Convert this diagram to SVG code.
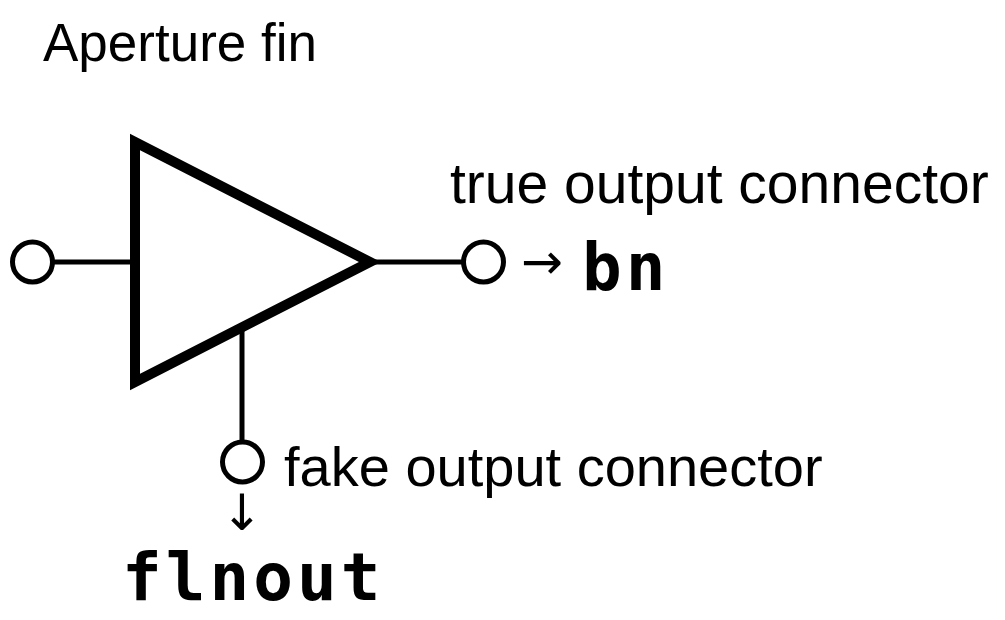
<svg xmlns="http://www.w3.org/2000/svg" width="1005" height="620" viewBox="0 0 1005 620">
<style>
.lbl{font-family:"Liberation Sans",Arial,sans-serif;fill:#000}
.px{font-family:"DejaVu Sans Mono","Liberation Mono",monospace;font-weight:bold;fill:#000;font-size:66px;letter-spacing:4px}
.arr{font-family:"DejaVu Sans",sans-serif;fill:#000;font-size:50px}
.pin{fill:#fff;stroke:#000;stroke-width:5}
.wire{stroke:#000;stroke-width:5;fill:none}
</style>
<rect width="1005" height="620" fill="#fff"/>
<text class="lbl" x="43" y="61" font-size="53">Aperture fin</text>
<g id="connectors">
<line class="wire" x1="52" y1="262" x2="135" y2="262"/>
<line class="wire" x1="370" y1="262" x2="463" y2="262"/>
<line class="wire" x1="242" y1="327" x2="242" y2="442"/>
</g>
<g id="amplifier">
<polygon points="135,142 370,262 135,382" fill="#fff" stroke="#000" stroke-width="10" stroke-linejoin="miter"/>
</g>
<g id="input-pin">
<circle class="pin" cx="32.5" cy="262" r="20"/>
</g>
<g id="true-output">
<circle class="pin" cx="483.5" cy="262" r="20"/>
<text class="lbl" x="450" y="203" font-size="57">true output connector</text>
<text class="arr" x="521" y="279">→</text>
<text class="px" x="582" y="290">bn</text>
</g>
<g id="fake-output">
<circle class="pin" cx="242.5" cy="462" r="20"/>
<text class="lbl" x="284" y="486" font-size="56">fake output connector</text>
<text class="arr" x="242" y="530" text-anchor="middle">↓</text>
<text class="px" x="122" y="600">flnout</text>
</g>
</svg>
